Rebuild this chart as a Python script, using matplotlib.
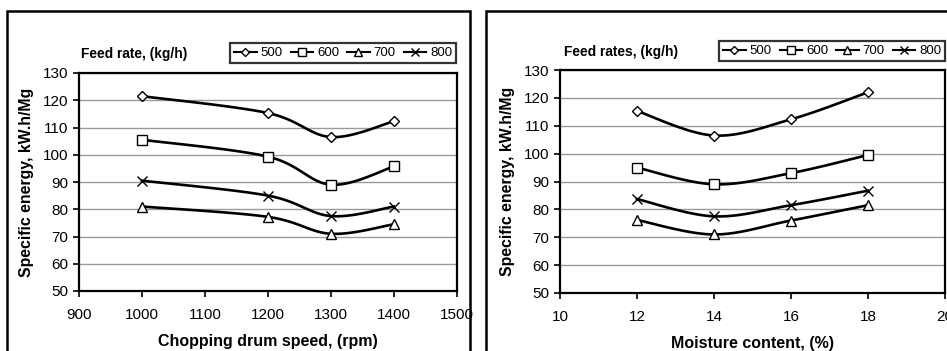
import numpy as np
import matplotlib
matplotlib.use("Agg")
import matplotlib.pyplot as plt
from matplotlib.patches import Rectangle
from matplotlib.lines import Line2D

plt.rcParams['font.family'] = ['Liberation Sans', 'DejaVu Sans']

# ---- data ----
speed = [1000, 1200, 1300, 1400]
speed_500 = [121.5, 115.3, 106.5, 112.3]
speed_600 = [105.5, 99.3, 89.0, 95.7]
speed_700 = [81.0, 77.2, 71.0, 74.5]
speed_800 = [90.5, 85.0, 77.5, 81.0]

moisture = [12, 14, 16, 18]
moist_500 = [115.3, 106.5, 112.3, 122.0]
moist_600 = [95.0, 89.0, 93.0, 99.5]
moist_700 = [76.2, 71.0, 76.0, 81.5]
moist_800 = [83.7, 77.5, 81.5, 86.7]

series_labels = ['500', '600', '700', '800']
markers = ['D', 's', '^', 'x']
msizes = [5.5, 6.5, 7, 6.5]


def smooth(x, y, n=30):
    x = np.asarray(x, float); y = np.asarray(y, float)
    P = np.column_stack([x, y])
    pts = []
    for i in range(len(P) - 1):
        p0 = P[i - 1] if i > 0 else P[i]
        p1 = P[i]; p2 = P[i + 1]
        p3 = P[i + 2] if i + 2 < len(P) else P[i + 1]
        c1 = p1 + (p2 - p0) / 6.0
        c2 = p2 - (p3 - p1) / 6.0
        t = np.linspace(0, 1, n)[:, None]
        b = ((1 - t) ** 3) * p1 + 3 * ((1 - t) ** 2) * t * c1 + 3 * (1 - t) * t ** 2 * c2 + t ** 3 * p2
        if i > 0:
            b = b[1:]
        pts.append(b)
    pts = np.vstack(pts)
    return pts[:, 0], pts[:, 1]


fig = plt.figure(figsize=(9.47, 3.51), dpi=100)

# panel borders
fig.patches.append(Rectangle((7 / 947, -0.1), (470 - 7) / 947, 1.1 - 11 / 351 + 0.0,
                             transform=fig.transFigure, fill=False, lw=1.8, ec='black'))
fig.patches.append(Rectangle((486 / 947, -0.1), 0.6, 1.1 - 11 / 351,
                             transform=fig.transFigure, fill=False, lw=1.8, ec='black'))

ax1 = fig.add_axes([79 / 947, 1 - 291 / 351, (457 - 79) / 947, (291 - 73) / 351])
ax2 = fig.add_axes([560 / 947, 1 - 293 / 351, (945 - 560) / 947, (293 - 70) / 351])


def draw(ax, x, ys, xlim, xticks, xlabel, title, leg_anchor, title_pos):
    for y, m, ms, lab in zip(ys, markers, msizes, series_labels):
        sx, sy = smooth(x, y)
        ax.plot(sx, sy, color='black', lw=1.9, zorder=3)
        ax.plot(x, y, linestyle='none', marker=m, ms=ms, mfc='white', mec='black',
                mew=1.0, zorder=4)
    ax.set_xlim(*xlim)
    ax.set_ylim(50, 130)
    ax.set_xticks(xticks)
    ax.set_yticks(range(50, 131, 10))
    ax.yaxis.grid(True, color='#9a9a9a', lw=1.0)
    ax.set_axisbelow(True)
    for s in ax.spines.values():
        s.set_linewidth(1.6)
        s.set_color('black')
    ax.tick_params(direction='out', length=4, width=1.2, labelsize=11)
    ax.tick_params(axis='x', pad=8)
    ax.tick_params(axis='y', pad=4)
    ax.set_xlabel(xlabel, fontsize=11.5, fontweight='bold', labelpad=9)
    ax.set_ylabel('Specific energy, kW.h/Mg', fontsize=11.4, fontweight='bold', labelpad=6)
    handles = [Line2D([0], [0], color='black', lw=1.5, marker=m, ms=ms * 0.8, mfc='white',
                      mec='black', mew=1.0) for m, ms in zip(markers, msizes)]
    leg = fig.legend(handles, series_labels, loc='center right', bbox_to_anchor=leg_anchor,
                     bbox_transform=fig.transFigure, ncol=4, fontsize=9.5, frameon=True,
                     fancybox=False, handlelength=1.7, handletextpad=0.3, columnspacing=0.6,
                     borderpad=0.3, borderaxespad=0)
    leg.get_frame().set_edgecolor('black')
    leg.get_frame().set_linewidth(1.6)
    fig.text(title_pos[0], title_pos[1], title, fontsize=9.9, fontweight='bold',
             ha='left', va='center')


draw(ax1, speed, [speed_500, speed_600, speed_700, speed_800], (900, 1500),
     range(900, 1501, 100), 'Chopping drum speed, (rpm)', 'Feed rate, (kg/h)',
     (456 / 947, 1 - 53 / 351), (81 / 947, 1 - 54 / 351))
draw(ax2, moisture, [moist_500, moist_600, moist_700, moist_800], (10, 20),
     range(10, 21, 2), 'Moisture content, (%)', 'Feed rates, (kg/h)',
     (945 / 947, 1 - 51 / 351), (564 / 947, 1 - 52 / 351))

fig.savefig('out.png', dpi=100)
